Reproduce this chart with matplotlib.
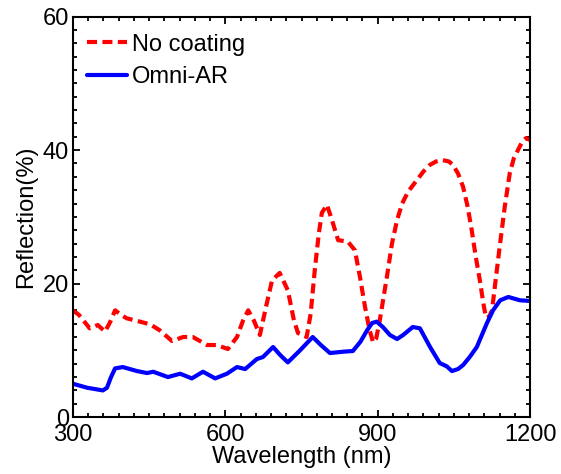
import numpy as np
import matplotlib
matplotlib.use('Agg')
import matplotlib.pyplot as plt

plt.rcParams['font.family'] = ['Liberation Sans', 'DejaVu Sans']

# reflection spectra (wavelength in nm, reflection in %)
bare_nm = [300, 312, 333, 349, 363, 373, 383, 395, 406, 432, 452, 471, 495, 517, 536,
           564, 583, 605, 623, 635, 645, 656, 668, 680, 692, 707, 723, 735, 743, 760,
           768, 776, 784, 790, 800, 810, 822, 841, 855, 865, 875, 884, 891, 897, 904,
           918, 928, 938, 948, 960, 977, 990, 1003, 1015, 1028, 1040, 1048, 1058, 1068,
           1077, 1085, 1093, 1101, 1108, 1113, 1119, 1125, 1132, 1140, 1150, 1160, 1168,
           1176, 1184, 1192, 1200]
bare = [16.0, 15.3, 13.3, 13.8, 12.8, 14.2, 16.0, 15.3, 14.8, 14.3, 13.9, 13.0, 11.4,
        12.0, 12.0, 10.8, 10.8, 10.2, 12.0, 14.5, 16.0, 14.5, 12.3, 16.5, 20.5, 21.6,
        19.0, 14.5, 12.6, 12.0, 15.5, 22.0, 27.5, 30.6, 31.8, 29.5, 26.5, 26.3, 25.0,
        21.0, 16.5, 13.0, 11.2, 11.8, 14.5, 21.0, 26.0, 29.5, 32.0, 33.8, 35.5, 36.8,
        37.8, 38.3, 38.5, 38.3, 37.8, 36.5, 34.5, 31.5, 28.0, 24.0, 20.5, 17.0, 14.9,
        15.0, 16.0, 20.5, 25.5, 31.5, 36.6, 38.8, 40.0, 41.2, 41.8, 41.5]

ar_nm = [300, 328, 359, 367, 375, 383, 398, 426, 446, 458, 487, 511, 534, 556, 580,
         603, 623, 639, 662, 674, 694, 708, 723, 747, 772, 788, 806, 832, 851, 866,
         879, 889, 898, 910, 924, 938, 950, 969, 983, 1003, 1022, 1036, 1046, 1058,
         1068, 1081, 1095, 1105, 1115, 1127, 1141, 1157, 1180, 1200]
ar = [5.0, 4.4, 4.0, 4.4, 6.0, 7.3, 7.5, 6.9, 6.6, 6.8, 6.0, 6.5, 5.8, 6.8, 5.8, 6.5,
      7.5, 7.2, 8.7, 9.0, 10.5, 9.3, 8.2, 10.0, 12.0, 10.8, 9.6, 9.8, 9.9, 11.3, 13.0,
      14.1, 14.3, 13.5, 12.3, 11.7, 12.3, 13.5, 13.3, 10.5, 8.1, 7.6, 6.9, 7.2, 7.8,
      9.0, 10.5, 12.3, 14.1, 16.0, 17.5, 18.0, 17.5, 17.4]

xticks = [300, 600, 900, 1200]
yticks = [0, 20, 40, 60]

fig = plt.figure(figsize=(5.61, 4.74), dpi=100)
ax = fig.add_axes([0.130, 0.120, 0.815, 0.845])

ax.plot(bare_nm, bare, color='#ff0000', lw=3, dashes=(2.4, 1.3),
        solid_joinstyle='round', label='No coating')
ax.plot(ar_nm, ar, color='#0000ff', lw=3, solid_joinstyle='round',
        solid_capstyle='round', label='Omni-AR')

ax.set_xlim(300, 1200)
ax.set_ylim(0, 60)
ax.set_xticks(xticks)
ax.set_yticks(yticks)
ax.set_xticks(np.arange(300, 1201, 30), minor=True)
ax.set_yticks(np.arange(0, 61, 2), minor=True)
ax.tick_params(which='both', direction='in', top=True, right=True,
               labelsize=17, width=1.3)
ax.tick_params(axis='x', pad=5)
ax.tick_params(axis='y', pad=3)
ax.tick_params(which='major', length=5)
ax.tick_params(which='minor', length=3)
for s in ax.spines.values():
    s.set_linewidth(1.5)

ax.set_xlabel('Wavelength (nm)', fontsize=17, labelpad=0)
ax.set_ylabel('Reflection(%)', fontsize=17, labelpad=4)

ax.legend(loc='upper left', bbox_to_anchor=(0, 0.9925), frameon=False,
          fontsize=17, handlelength=1.7, handletextpad=0.2,
          borderaxespad=0.3, borderpad=0.3, labelspacing=0.45)

fig.savefig('out.png', dpi=100)
